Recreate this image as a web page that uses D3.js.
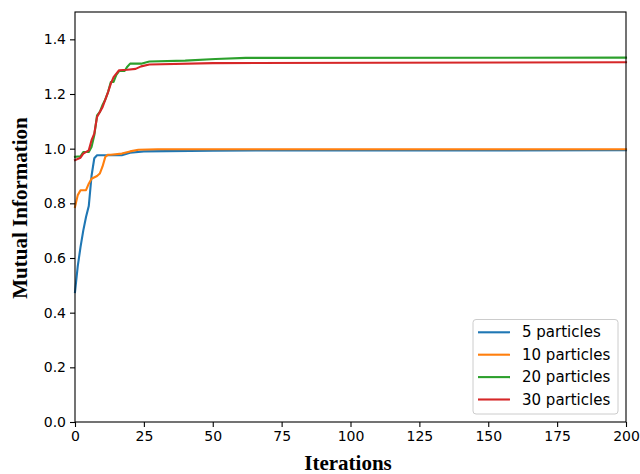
<!DOCTYPE html>
<html>
<head>
<meta charset="utf-8">
<script src="https://cdn.jsdelivr.net/npm/d3@7"></script>
<style>
  body { margin: 0; background: #fff; }
  svg { display: block; }
  .tick text { font-family: "DejaVu Sans", sans-serif; font-size: 14px; fill: #000; }
  .tick line, .domain { stroke: #000; }
</style>
</head>
<body>
<div id="chart"></div>
<script>
// series breakpoints (iteration, mutual information)
const seriesNames = ['5 particles', '10 particles', '20 particles', '30 particles'];
const colors = ['#1f77b4', '#ff7f0e', '#2ca02c', '#d62728'];

const iters5 = [0, 1, 2, 3, 4, 5, 6, 7, 8, 17, 20, 25, 50, 200];
const mi5 = [0.475, 0.57, 0.64, 0.70, 0.75, 0.79, 0.90, 0.965, 0.976, 0.976, 0.985, 0.99, 0.993, 0.994];

const iters10 = [0, 1, 2, 4, 5, 6, 8, 9, 10, 11, 12, 13, 17, 20, 23, 30, 200];
const mi10 = [0.787, 0.83, 0.848, 0.848, 0.872, 0.89, 0.90, 0.909, 0.935, 0.97, 0.978, 0.978, 0.982, 0.99, 0.996, 0.998, 0.998];

const iters20 = [0, 2, 3, 5, 6, 7, 8, 9, 10, 11, 12, 13, 14, 15, 16, 18, 19, 20, 24, 27, 40, 51, 62, 200];
const mi20 = [0.97, 0.972, 0.988, 0.988, 1.006, 1.049, 1.122, 1.134, 1.16, 1.18, 1.207, 1.244, 1.244, 1.27, 1.284, 1.284, 1.30, 1.311, 1.311, 1.319, 1.322, 1.328, 1.332, 1.333];

const iters30 = [0, 2, 3, 5, 6, 7, 8, 10, 12, 13, 14, 16, 19, 22, 24, 27, 50, 200];
const mi30 = [0.958, 0.967, 0.982, 0.994, 1.031, 1.055, 1.116, 1.152, 1.207, 1.238, 1.262, 1.287, 1.289, 1.292, 1.301, 1.308, 1.313, 1.316];

const xTicks = [0, 25, 50, 75, 100, 125, 150, 175, 200];
const yTicks = [0, 0.2, 0.4, 0.6, 0.8, 1.0, 1.2, 1.4];

const series = [
  { name: seriesNames[0], x: iters5, y: mi5 },
  { name: seriesNames[1], x: iters10, y: mi10 },
  { name: seriesNames[2], x: iters20, y: mi20 },
  { name: seriesNames[3], x: iters30, y: mi30 }
];

const width = 640, height = 474;
const plotLeft = 75, plotRight = 626, plotTop = 12, plotBottom = 422;

const svg = d3.select('#chart')
  .append('svg')
  .attr('width', width)
  .attr('height', height);

const xScale = d3.scaleLinear().domain([0, 200]).range([plotLeft, plotRight]);
const yScale = d3.scaleLinear().domain([0, 1.5]).range([plotBottom, plotTop]);

const line = d3.line()
  .x(d => xScale(d[0]))
  .y(d => yScale(d[1]));

svg.append('g')
  .selectAll('path')
  .data(series)
  .enter()
  .append('path')
  .attr('d', s => line(s.x.map((v, i) => [v, s.y[i]])))
  .attr('fill', 'none')
  .attr('stroke', (s, i) => colors[i])
  .attr('stroke-width', 2.1)
  .attr('stroke-linejoin', 'round')
  .attr('stroke-linecap', 'square');

// frame
svg.append('rect')
  .attr('x', plotLeft)
  .attr('y', plotTop)
  .attr('width', plotRight - plotLeft)
  .attr('height', plotBottom - plotTop)
  .attr('fill', 'none')
  .attr('stroke', '#000')
  .attr('stroke-width', 1.1);

const xAxis = d3.axisBottom(xScale)
  .tickValues(xTicks)
  .tickSize(5)
  .tickSizeOuter(0)
  .tickPadding(4)
  .tickFormat(d3.format('d'));

const yAxis = d3.axisLeft(yScale)
  .tickValues(yTicks)
  .tickSize(5)
  .tickSizeOuter(0)
  .tickPadding(4)
  .tickFormat(d3.format('.1f'));

svg.append('g')
  .attr('transform', `translate(0, ${plotBottom})`)
  .call(xAxis)
  .call(g => g.select('.domain').remove());

svg.append('g')
  .attr('transform', `translate(${plotLeft}, 0)`)
  .call(yAxis)
  .call(g => g.select('.domain').remove());

svg.selectAll('.tick line').attr('stroke-width', 1.1);

svg.append('text')
  .attr('x', 348)
  .attr('y', 470)
  .attr('text-anchor', 'middle')
  .attr('font-family', '"Liberation Serif", "Times New Roman", serif')
  .attr('font-weight', 'bold')
  .attr('font-size', 21)
  .text('Iterations');

svg.append('text')
  .attr('transform', 'translate(27, 208) rotate(-90)')
  .attr('text-anchor', 'middle')
  .attr('font-family', '"Liberation Serif", "Times New Roman", serif')
  .attr('font-weight', 'bold')
  .attr('font-size', 21)
  .text('Mutual Information');

// legend
const legend = svg.append('g');
legend.append('rect')
  .attr('x', 473)
  .attr('y', 319.5)
  .attr('width', 145)
  .attr('height', 94.5)
  .attr('rx', 3)
  .attr('fill', 'rgba(255,255,255,0.8)')
  .attr('stroke', '#cccccc')
  .attr('stroke-width', 1);

const rows = legend.selectAll('g.row')
  .data(series)
  .enter()
  .append('g')
  .attr('class', 'row')
  .attr('transform', (d, i) => `translate(0, ${332.3 + i * 22.4})`);

rows.append('line')
  .attr('x1', 478)
  .attr('x2', 510)
  .attr('stroke', (d, i) => colors[i])
  .attr('stroke-width', 2.1);

rows.append('text')
  .attr('x', 522)
  .attr('y', 5)
  .attr('font-family', '"DejaVu Sans", sans-serif')
  .attr('font-size', 15)
  .text(d => d.name);
</script>
</body>
</html>
